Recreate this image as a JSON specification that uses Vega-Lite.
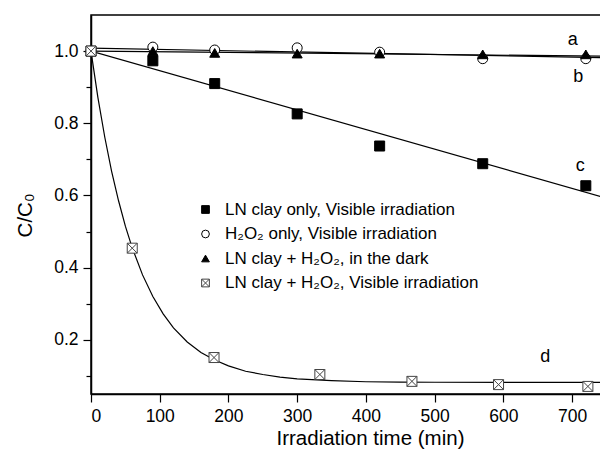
{
  "$schema": "https://vega.github.io/schema/vega-lite/v6.json",
  "width": 512,
  "height": 379,
  "autosize": {"type": "none"},
  "padding": {"left": 91, "top": 15, "right": 0, "bottom": 58},
  "background": "white",
  "config": {
    "font": "Liberation Sans",
    "view": {"stroke": "black", "strokeWidth": 1.5},
    "axis": {"domainColor": "black", "domainWidth": 1.5, "tickColor": "black", "tickWidth": 1.2, "labelColor": "black", "titleColor": "black", "labelFont": "Liberation Sans", "titleFont": "Liberation Sans", "titleFontWeight": "normal", "labelFontSize": 17.5, "titleFontSize": 20.5, "grid": false}
  },
  "datasets": {
    "fits": [
      {"curve": "a", "t": 0, "c": 1.0},
      {"curve": "a", "t": 745, "c": 0.986},
      {"curve": "b", "t": 0, "c": 1.008},
      {"curve": "b", "t": 745, "c": 0.982},
      {"curve": "c", "t": 0, "c": 1.0},
      {"curve": "c", "t": 745, "c": 0.595},
      {"curve": "d", "t": 0, "c": 1.0},
      {"curve": "d", "t": 10, "c": 0.872},
      {"curve": "d", "t": 20, "c": 0.762},
      {"curve": "d", "t": 30, "c": 0.667},
      {"curve": "d", "t": 40, "c": 0.586},
      {"curve": "d", "t": 50, "c": 0.515},
      {"curve": "d", "t": 60, "c": 0.455},
      {"curve": "d", "t": 75, "c": 0.38},
      {"curve": "d", "t": 90, "c": 0.32},
      {"curve": "d", "t": 105, "c": 0.272},
      {"curve": "d", "t": 120, "c": 0.233},
      {"curve": "d", "t": 140, "c": 0.194},
      {"curve": "d", "t": 160, "c": 0.165},
      {"curve": "d", "t": 180, "c": 0.144},
      {"curve": "d", "t": 200, "c": 0.128},
      {"curve": "d", "t": 225, "c": 0.113},
      {"curve": "d", "t": 250, "c": 0.104},
      {"curve": "d", "t": 275, "c": 0.097},
      {"curve": "d", "t": 300, "c": 0.092},
      {"curve": "d", "t": 350, "c": 0.087},
      {"curve": "d", "t": 400, "c": 0.084},
      {"curve": "d", "t": 450, "c": 0.083},
      {"curve": "d", "t": 500, "c": 0.0826},
      {"curve": "d", "t": 600, "c": 0.0821},
      {"curve": "d", "t": 745, "c": 0.082}
    ],
    "points": [
      {"series": "LN clay only, Visible irradiation", "t": 0, "c": 1.0},
      {"series": "LN clay only, Visible irradiation", "t": 90, "c": 0.973},
      {"series": "LN clay only, Visible irradiation", "t": 180, "c": 0.91},
      {"series": "LN clay only, Visible irradiation", "t": 300, "c": 0.826},
      {"series": "LN clay only, Visible irradiation", "t": 420, "c": 0.737},
      {"series": "LN clay only, Visible irradiation", "t": 570, "c": 0.688},
      {"series": "LN clay only, Visible irradiation", "t": 720, "c": 0.627},
      {"series": "H₂O₂ only, Visible irradiation", "t": 0, "c": 1.0},
      {"series": "H₂O₂ only, Visible irradiation", "t": 90, "c": 1.011},
      {"series": "H₂O₂ only, Visible irradiation", "t": 180, "c": 1.003},
      {"series": "H₂O₂ only, Visible irradiation", "t": 300, "c": 1.009},
      {"series": "H₂O₂ only, Visible irradiation", "t": 420, "c": 0.997},
      {"series": "H₂O₂ only, Visible irradiation", "t": 570, "c": 0.979},
      {"series": "H₂O₂ only, Visible irradiation", "t": 720, "c": 0.979},
      {"series": "LN clay + H₂O₂, in the dark", "t": 0, "c": 1.0},
      {"series": "LN clay + H₂O₂, in the dark", "t": 90, "c": 1.0},
      {"series": "LN clay + H₂O₂, in the dark", "t": 180, "c": 0.995},
      {"series": "LN clay + H₂O₂, in the dark", "t": 300, "c": 0.993},
      {"series": "LN clay + H₂O₂, in the dark", "t": 420, "c": 0.993},
      {"series": "LN clay + H₂O₂, in the dark", "t": 570, "c": 0.991},
      {"series": "LN clay + H₂O₂, in the dark", "t": 720, "c": 0.991},
      {"series": "LN clay + H₂O₂, Visible irradiation", "t": 0, "c": 1.0},
      {"series": "LN clay + H₂O₂, Visible irradiation", "t": 60, "c": 0.454},
      {"series": "LN clay + H₂O₂, Visible irradiation", "t": 179, "c": 0.151},
      {"series": "LN clay + H₂O₂, Visible irradiation", "t": 333, "c": 0.104},
      {"series": "LN clay + H₂O₂, Visible irradiation", "t": 467, "c": 0.085},
      {"series": "LN clay + H₂O₂, Visible irradiation", "t": 593, "c": 0.076},
      {"series": "LN clay + H₂O₂, Visible irradiation", "t": 723, "c": 0.071}
    ],
    "labels": [
      {"text": "a", "t": 701, "c": 1.03},
      {"text": "b", "t": 709, "c": 0.927},
      {"text": "c", "t": 712, "c": 0.683},
      {"text": "d", "t": 661, "c": 0.152}
    ]
  },
  "layer": [
    {
      "data": {"name": "fits"},
      "mark": {"type": "line", "color": "black", "strokeWidth": 1.2, "clip": true},
      "encoding": {
        "x": {"field": "t", "type": "quantitative", "scale": {"domain": [0, 745], "nice": false, "zero": false},
          "axis": {"title": "Irradiation time (min)", "values": [0, 50, 100, 150, 200, 250, 300, 350, 400, 450, 500, 550, 600, 650, 700],
            "labelExpr": "datum.value % 100 == 0 ? format(datum.value, 'd') : ''",
            "tickSize": {"condition": {"test": "datum.value % 100 == 0", "value": 8}, "value": 5},
            "labelPadding": 5, "titlePadding": 4, "titleX": 279}},
        "y": {"field": "c", "type": "quantitative", "scale": {"domain": [0.05, 1.1], "nice": false, "zero": false},
          "axis": {"title": "C/C₀", "values": [0.1, 0.2, 0.3, 0.4, 0.5, 0.6, 0.7, 0.8, 0.9, 1.0],
            "labelExpr": "round(datum.value * 10) % 2 == 0 ? format(datum.value, '.1f') : ''",
            "tickSize": {"condition": {"test": "round(datum.value * 10) % 2 == 0", "value": 8}, "value": 5},
            "labelPadding": 5, "titlePadding": 18, "titleY": 200}},
        "detail": {"field": "curve"}
      }
    },
    {
      "data": {"name": "points"},
      "mark": {"type": "point", "filled": false, "opacity": 1, "strokeWidth": 1, "size": 100},
      "encoding": {
        "x": {"field": "t", "type": "quantitative"},
        "y": {"field": "c", "type": "quantitative"},
        "shape": {"field": "series", "type": "nominal",
          "scale": {"domain": ["LN clay only, Visible irradiation", "H₂O₂ only, Visible irradiation", "LN clay + H₂O₂, in the dark", "LN clay + H₂O₂, Visible irradiation"],
            "range": ["square", "circle", "triangle-up", "M-1,-1L1,-1L1,1L-1,1Z M-1,-1L1,1 M1,-1L-1,1"]},
          "legend": {"title": null, "orient": "none", "legendX": 106, "legendY": 186, "padding": 0, "labelFont": "Liberation Sans", "labelFontSize": 17, "labelColor": "black", "labelLimit": 400, "labelOffset": 11, "rowPadding": 6.5, "symbolSize": 60, "symbolStrokeWidth": 1}},
        "fill": {"field": "series", "type": "nominal",
          "scale": {"domain": ["LN clay only, Visible irradiation", "H₂O₂ only, Visible irradiation", "LN clay + H₂O₂, in the dark", "LN clay + H₂O₂, Visible irradiation"],
            "range": ["black", "white", "black", "white"]}},
        "stroke": {"field": "series", "type": "nominal",
          "scale": {"domain": ["LN clay only, Visible irradiation", "H₂O₂ only, Visible irradiation", "LN clay + H₂O₂, in the dark", "LN clay + H₂O₂, Visible irradiation"],
            "range": ["black", "black", "black", "#444444"]}}
      }
    },
    {
      "data": {"name": "labels"},
      "mark": {"type": "text", "fontSize": 18, "font": "Liberation Sans", "color": "black", "align": "center", "baseline": "middle"},
      "encoding": {
        "x": {"field": "t", "type": "quantitative"},
        "y": {"field": "c", "type": "quantitative"},
        "text": {"field": "text"}
      }
    }
  ]
}
